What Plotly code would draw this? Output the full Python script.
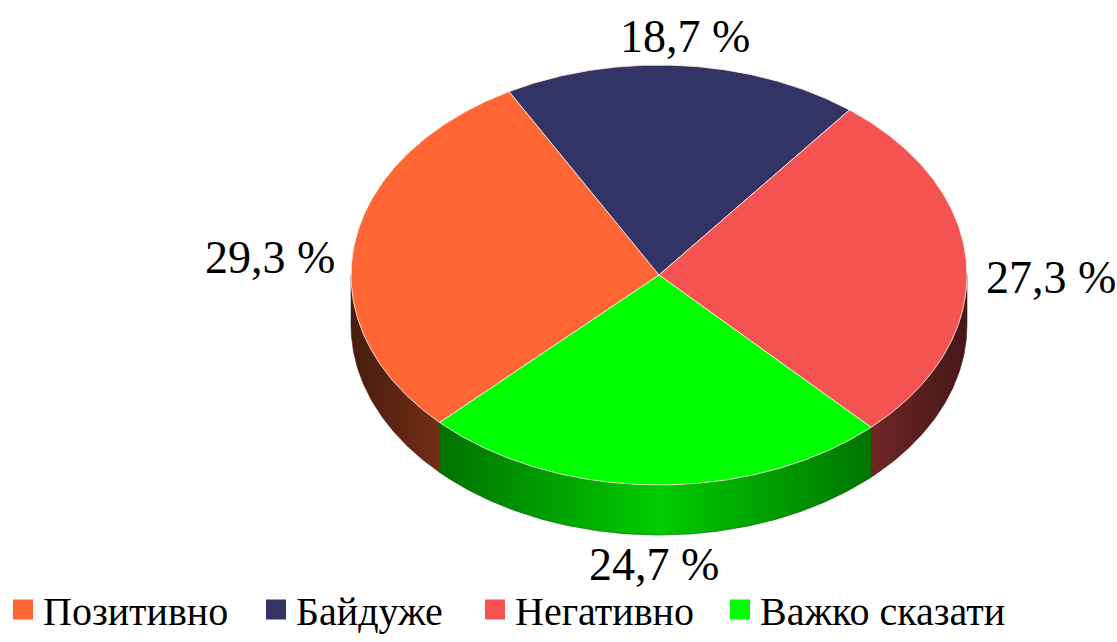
import numpy as np
import plotly.graph_objects as go

# ---- data ----
categories = ["Позитивно", "Байдуже", "Негативно", "Важко сказати"]
values = [29.3, 18.7, 27.3, 24.7]
value_labels = ["29,3 %", "18,7 %", "27,3 %", "24,7 %"]
colors = ["#FF6633", "#333366", "#F55252", "#00FF00"]

# ---- geometry / style ----
W, H = 1117, 642
CX, CY, RX, RY, DEPTH = 659, 275, 308, 210, 50
START_DEG = 224.6          # first slice starts here, slices go clockwise
FONT = "Liberation Serif, Times New Roman, serif"
GAP_X, GAP_Y = 17, 2
LEGEND_X_PX = [3, 256, 475, 720]   # left edge of each legend entry (layout)


def shade(hex_color, f):
    h = hex_color.lstrip("#")
    r, g, b = (int(h[i:i + 2], 16) for i in (0, 2, 4))
    return "rgb(%d,%d,%d)" % (round(r * f), round(g * f), round(b * f))


def ell(t_deg, dy=0.0):
    t = np.radians(t_deg)
    return CX + RX * np.cos(t), CY - RY * np.sin(t) + dy


fig = go.Figure()

total = float(sum(values))
spans = [v / total * 360.0 for v in values]
starts = []
a = START_DEG
for s in spans:
    starts.append(a)
    a -= s

# --- side walls (front half only) ---
for i, (a0, s) in enumerate(zip(starts, spans)):
    a1 = a0 - s  # arc from a1 (low) to a0 (high)
    for k in range(-2, 3):
        lo = max(a1, 180 + 360 * k)
        hi = min(a0, 360 + 360 * k)
        if hi - lo <= 0.01:
            continue
        t = np.linspace(lo, hi, 120)
        xt, yt = ell(t)
        xb, yb = ell(t[::-1], DEPTH)
        xs = np.concatenate([xt, xb, xt[:1]])
        ys = np.concatenate([yt, yb, yt[:1]])
        c = colors[i]
        fig.add_trace(go.Scatter(
            x=xs, y=ys, mode="lines", fill="toself",
            line=dict(width=0.6, color=shade(c, 0.35)),
            fillgradient=dict(
                type="horizontal", start=CX - RX, stop=CX + RX,
                colorscale=[[0, shade(c, 0.28)], [0.15, shade(c, 0.45)],
                            [0.5, shade(c, 0.8)], [0.85, shade(c, 0.45)],
                            [1, shade(c, 0.28)]]),
            hoverinfo="skip", showlegend=False))

# --- top faces ---
for i, (a0, s) in enumerate(zip(starts, spans)):
    t = np.linspace(a0, a0 - s, 200)
    xa, ya = ell(t)
    xs = np.concatenate([[CX], xa, [CX]])
    ys = np.concatenate([[CY], ya, [CY]])
    fig.add_trace(go.Scatter(
        x=xs, y=ys, mode="lines", fill="toself", fillcolor=colors[i],
        line=dict(width=1, color="rgba(255,235,225,0.85)"),
        name=categories[i], hoverinfo="name", showlegend=False))

# --- legend entries (one legend box per entry, laid out in a row) ---
legend_layout = {}
for i, cat in enumerate(categories):
    lg = "legend" if i == 0 else "legend%d" % (i + 1)
    fig.add_trace(go.Scatter(
        x=[None], y=[None], mode="markers", name=cat, legend=lg,
        marker=dict(symbol="square", size=22, color=colors[i],
                    line=dict(width=4, color=colors[i]))))
    legend_layout[lg] = dict(
        orientation="h", x=LEGEND_X_PX[i] / W, xanchor="left",
        y=0.0, yanchor="bottom",
        font=dict(family=FONT, size=40, color="black"),
        itemsizing="trace", itemwidth=30, bgcolor="rgba(0,0,0,0)")

# --- value labels ---
for i, (a0, s) in enumerate(zip(starts, spans)):
    mid = a0 - s / 2
    c, sn = np.cos(np.radians(mid)), np.sin(np.radians(mid))
    x = CX + (RX + GAP_X) * c
    y = CY - (RY + GAP_Y) * sn
    if sn < -0.5:
        y += DEPTH
    elif abs(sn) <= 0.5:
        y += DEPTH * 0.25
    xanchor = "left" if c > 0.5 else ("right" if c < -0.5 else "center")
    yanchor = "bottom" if sn > 0.5 else ("top" if sn < -0.5 else "middle")
    fig.add_annotation(x=x, y=y, text=value_labels[i], showarrow=False,
                       xanchor=xanchor, yanchor=yanchor,
                       font=dict(family=FONT, size=46, color="black"))

fig.update_layout(
    width=W, height=H,
    margin=dict(l=0, r=0, t=0, b=0),
    paper_bgcolor="white", plot_bgcolor="white",
    xaxis=dict(range=[0, W], visible=False, fixedrange=True),
    yaxis=dict(range=[H, 0], visible=False, fixedrange=True),
    showlegend=True,
    **legend_layout,
)

fig.write_html("out.html", config={"displayModeBar": False},
               post_script="document.body.style.margin='0px';")
